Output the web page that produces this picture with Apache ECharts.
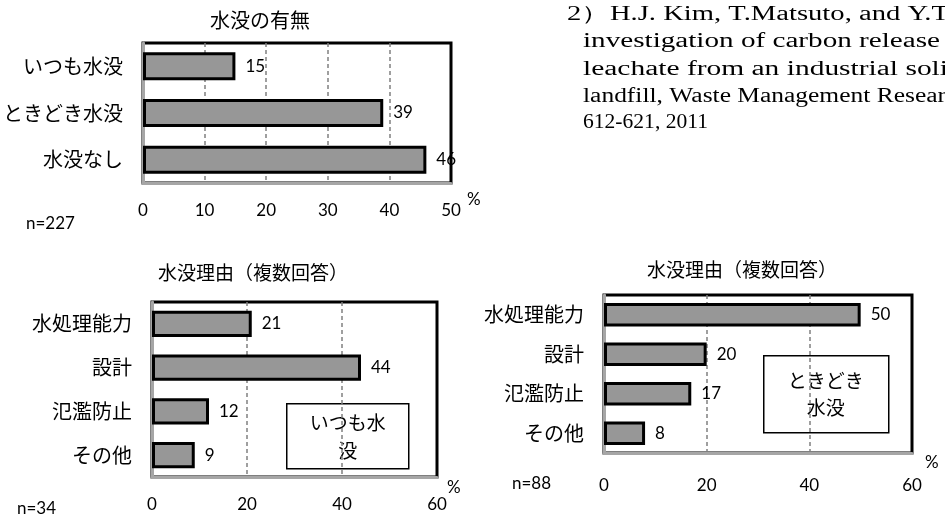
<!DOCTYPE html>
<html><head><meta charset="utf-8">
<script src="https://cdn.jsdelivr.net/npm/echarts@6/dist/echarts.min.js"></script>
<style>html,body{margin:0;padding:0;background:#fff}#c{width:945px;height:515px}</style>
</head><body><div id="c"></div>
<script>
const titles = ['水没の有無', '水没理由（複数回答）', '水没理由（複数回答）'];
const cat1 = ['いつも水没', 'ときどき水没', '水没なし'];
const val1 = [15, 39, 46];
const cat2 = ['水処理能力', '設計', '氾濫防止', 'その他'];
const val2 = [21, 44, 12, 9];
const cat3 = ['水処理能力', '設計', '氾濫防止', 'その他'];
const val3 = [50, 20, 17, 8];
const axisMax = [50, 60, 60];
const axisInterval = [10, 20, 20];
const unitName = '%';
const sampleSizes = ['n=227', 'n=34', 'n=88'];
const boxLabels = ['いつも水\n没', 'ときどき\n水没'];
const citation = [
  '2）H.J. Kim, T.Matsuto, and Y.T',
  'investigation of carbon release',
  'leachate from an industrial soli',
  'landfill, Waste Management Resear',
  '612-621, 2011'
];

const CJK = "'Noto Sans CJK JP', sans-serif";
const NUM = "Lato, 'Noto Sans CJK JP', sans-serif";
const SERIF = "20px 'Liberation Serif', serif";
const cats = [cat1, cat2, cat3];
const vals = [val1, val2, val3];

const grids = [
  {left: 143, top: 43, width: 308, height: 140},
  {left: 152, top: 302, width: 285, height: 175},
  {left: 604, top: 295, width: 308, height: 158}
];
const tickMargin = [19, 19, 24];
const nameGap = [16, 10, 13];
const namePadTop = [8, 2, 1];
const titlePos = [{x: 260, y: 10, size: 20}, {x: 253, y: 263, size: 19}, {x: 742, y: 260, size: 19}];

// citation layout (justified lines, as in the printed page)
const citeX = [567, 583, 583, 583, 583];
const citeY = [15, 42, 70, 97, 123];
const citeRight = [949, 940, 948, 946, 708];
const mctx = document.createElement('canvas').getContext('2d');
mctx.font = SERIF;

const chart = echarts.init(document.getElementById('c'), null, {renderer: 'canvas'});

const option = {
  backgroundColor: '#fff',
  animation: false,
  title: titles.map((t, i) => ({
    text: t, left: titlePos[i].x, top: titlePos[i].y, textAlign: 'center', padding: 0,
    textStyle: {fontFamily: CJK, fontSize: titlePos[i].size, fontWeight: 'normal', color: '#000'}
  })),
  grid: grids.map(g => Object.assign({
    show: true, borderColor: '#000', borderWidth: 3, backgroundColor: 'transparent',
    containLabel: false, outerBoundsMode: 'none'
  }, g)),
  xAxis: grids.map((g, i) => ({
    type: 'value', gridIndex: i, min: 0, max: axisMax[i], interval: axisInterval[i], z: 3,
    name: unitName, nameLocation: 'end', nameGap: nameGap[i],
    nameTextStyle: {fontFamily: NUM, fontSize: 17, color: '#000', verticalAlign: 'top', align: 'left', padding: [namePadTop[i], 0, 0, 0]},
    axisLine: {show: true, lineStyle: {color: '#a6a6a6', width: 3}},
    axisTick: {show: false},
    splitLine: {show: true, showMinLine: false, showMaxLine: false, lineStyle: {color: '#808080', type: [4, 3], width: 1.5}},
    axisLabel: {color: '#000', fontFamily: NUM, fontSize: 17, margin: tickMargin[i]}
  })),
  yAxis: grids.map((g, i) => ({
    type: 'category', gridIndex: i, data: cats[i], inverse: true, z: 3,
    axisLine: {show: true, lineStyle: {color: '#a6a6a6', width: 3}},
    axisTick: {show: false},
    splitLine: {show: false},
    axisLabel: {color: '#000', fontFamily: CJK, fontSize: 20, margin: 20}
  })),
  series: vals.map((v, i) => ({
    type: 'bar', xAxisIndex: i, yAxisIndex: i, data: v, barWidth: '60%', z: 5,
    itemStyle: {color: '#979797', borderColor: '#000', borderWidth: 3},
    label: {show: true, position: 'right', distance: 10, color: '#000', fontFamily: NUM, fontSize: 17}
  })),
  graphic: [
    {type: 'text', left: 26, top: 215, style: {text: sampleSizes[0], font: "17px " + NUM, fill: '#000'}},
    {type: 'text', left: 17, top: 500, style: {text: sampleSizes[1], font: "17px " + NUM, fill: '#000'}},
    {type: 'text', left: 512, top: 475, style: {text: sampleSizes[2], font: "17px " + NUM, fill: '#000'}},
    {type: 'group', left: 286, top: 403, z: 10, children: [
      {type: 'rect', shape: {x: 0, y: 0, width: 122, height: 65}, style: {fill: '#fff', stroke: '#000', lineWidth: 1.5}},
      {type: 'text', x: 61, y: 33, style: {text: boxLabels[0], font: "19px " + CJK, fill: '#000', align: 'center', verticalAlign: 'middle', lineHeight: 28}}
    ]},
    {type: 'group', left: 763, top: 355, z: 10, children: [
      {type: 'rect', shape: {x: 0, y: 0, width: 125, height: 77}, style: {fill: '#fff', stroke: '#000', lineWidth: 1.5}},
      {type: 'text', x: 62, y: 39, style: {text: boxLabels[1], font: "19px " + CJK, fill: '#000', align: 'center', verticalAlign: 'middle', lineHeight: 27}}
    ]}
  ].concat(citation.map((line, k) => {
    const w = mctx.measureText(line).width;
    const sx = citeRight[k] ? (citeRight[k] - citeX[k]) / w : 1;
    return {
      type: 'text', x: citeX[k], y: citeY[k], scaleX: sx,
      style: {text: line, font: SERIF, fill: '#000', verticalAlign: 'middle'}
    };
  }))
};
chart.setOption(option);
</script>
</body></html>
